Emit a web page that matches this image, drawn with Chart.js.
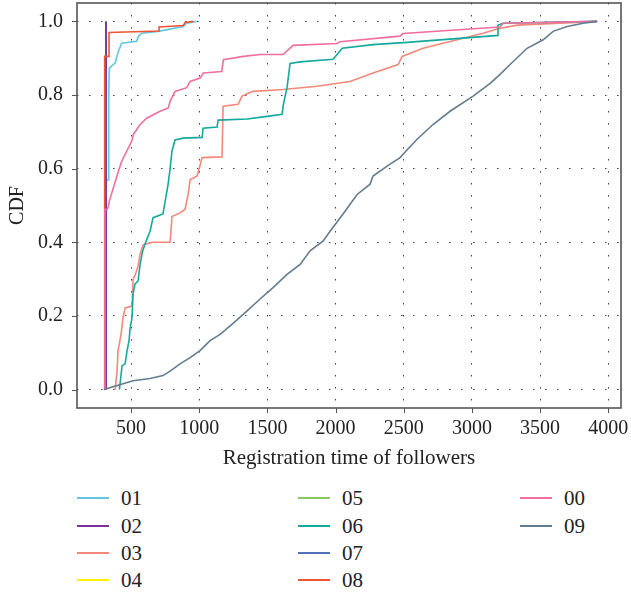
<!DOCTYPE html>
<html><head><meta charset="utf-8">
<script src="https://cdn.jsdelivr.net/npm/chart.js@4"></script>
<style>
html,body{margin:0;padding:0;background:#fff;}
#wrap{position:relative;width:631px;height:595px;overflow:hidden;}
#chartBox{position:absolute;left:0;top:0;width:631px;height:475px;}
.leg{position:absolute;font-family:"Liberation Serif",serif;font-size:21px;color:#222;line-height:24px;height:24px;}
.leg .ln{position:absolute;left:0;top:11px;height:2px;width:32px;}
.leg .tx{position:absolute;left:44px;top:0;white-space:nowrap;}
</style></head>
<body><div id="wrap"><div id="chartBox"><canvas id="c"></canvas></div><div id="legend"></div></div>
<script>
// ---- data ----
const seriesNames = ['01','02','03','04','05','06','07','08','00','09'];
const seriesColors = ['#62c6de','#7a2f9a','#f4887a','#fff200','#8cc860','#14a99c','#5572b8','#ef5533','#f06ea0','#627c90'];
const xTicks = [500,1000,1500,2000,2500,3000,3500,4000];
const yTicks = [0.0,0.2,0.4,0.6,0.8,1.0];

const x01 = [312,312,331,336,340,382,407,431,541,553,578,700,883,908,981];
const y01 = [0,0.566,0.57,0.80,0.873,0.887,0.919,0.941,0.946,0.959,0.968,0.973,0.986,0.995,1.0];

const x02 = [316,316];
const y02 = [0,1.0];

const x03 = [383,397,404,426,441,456,507,514,529,551,566,588,654,786,800,859,896,918,933,984,999,1021,1167,1175,1285,1314,1358,1395,1615,1864,2106,2275,2459,2488,2642,2892,3082,3192,3332,3919];
const y03 = [0,0.05,0.105,0.15,0.196,0.222,0.227,0.30,0.31,0.336,0.368,0.393,0.40,0.40,0.47,0.48,0.49,0.53,0.57,0.58,0.60,0.63,0.632,0.77,0.775,0.797,0.805,0.81,0.815,0.824,0.837,0.86,0.883,0.905,0.927,0.95,0.968,0.98,0.99,1.0];

const x04 = [316,316];
const y04 = [0,1.0];

const x05 = [316,316];
const y05 = [0,1.0];

const x06 = [414,434,456,470,485,492,507,514,529,551,566,580,588,602,617,639,661,734,749,771,786,800,822,881,1021,1028,1131,1138,1351,1497,1608,1615,1630,1644,1666,1740,1982,2011,2048,2275,2525,3192,3192,3229,3919];
const y06 = [0,0.065,0.07,0.105,0.133,0.165,0.196,0.26,0.287,0.295,0.34,0.368,0.38,0.395,0.41,0.43,0.467,0.477,0.51,0.557,0.60,0.648,0.678,0.683,0.685,0.71,0.713,0.732,0.735,0.742,0.748,0.77,0.797,0.82,0.886,0.89,0.897,0.91,0.927,0.937,0.943,0.962,0.99,0.995,1.0];

const x07 = [316,316];
const y07 = [0,1.0];

const x08 = [306,306,338,338,705,705,883,896,957];
const y08 = [0,0.905,0.905,0.97,0.974,0.985,0.989,0.997,1.0];

const x00 = [308,308,325,335,340,407,431,468,505,517,566,614,712,773,786,822,908,933,1006,1030,1165,1177,1324,1446,1615,1688,2011,2033,2473,2495,3207,3229,3919];
const y00 = [0,0.49,0.49,0.50,0.512,0.593,0.62,0.648,0.675,0.693,0.72,0.737,0.756,0.765,0.783,0.81,0.82,0.837,0.846,0.86,0.864,0.896,0.905,0.91,0.91,0.935,0.94,0.945,0.96,0.967,0.985,0.995,1.0];

const x09 = [300,368,514,639,734,786,859,933,1006,1079,1153,1248,1351,1446,1541,1644,1740,1813,1909,1960,2055,2158,2253,2275,2378,2473,2517,2598,2715,2840,3009,3134,3207,3280,3405,3523,3596,3699,3816,3919];
const y09 = [0,0.008,0.024,0.03,0.038,0.05,0.07,0.087,0.106,0.133,0.15,0.18,0.214,0.246,0.277,0.313,0.34,0.377,0.404,0.43,0.477,0.53,0.558,0.58,0.607,0.63,0.648,0.68,0.72,0.756,0.797,0.832,0.856,0.883,0.927,0.95,0.973,0.986,0.995,1.0];

const seriesX = [x01,x02,x03,x04,x05,x06,x07,x08,x00,x09];
const seriesY = [y01,y02,y03,y04,y05,y06,y07,y08,y00,y09];

// ---- chart ----
const FONT = '"Liberation Serif", "Times New Roman", serif';
const AXIS_COL = '#555555';
// drawing order (higher drawn first): 04,05 under, then 07, 02 ...
const drawOrder = [10, 5, 9, 13, 12, 8, 6, 4, 3, 2];

const datasets = seriesNames.map((n, i) => ({
  label: n,
  data: seriesX[i].map((x, k) => ({x: x, y: seriesY[i][k]})),
  borderColor: seriesColors[i],
  backgroundColor: seriesColors[i],
  borderWidth: 1.6,
  pointRadius: 0,
  fill: false,
  tension: 0,
  order: drawOrder[i]
}));

const framePlugin = {
  id: 'frame',
  afterDraw(chart) {
    const {ctx, chartArea: a, scales} = chart;
    ctx.save();
    ctx.strokeStyle = AXIS_COL;
    ctx.lineWidth = 1;
    ctx.beginPath();
    yTicks.forEach(v => {
      const p = Math.round(scales.y.getPixelForValue(v)) + 0.5;
      ctx.moveTo(a.left - 5, p); ctx.lineTo(a.left, p);
    });
    xTicks.forEach(v => {
      const p = Math.round(scales.x.getPixelForValue(v)) + 0.5;
      ctx.moveTo(p, a.bottom); ctx.lineTo(p, a.bottom + 5);
    });
    ctx.stroke();
    ctx.lineWidth = 1.6;
    ctx.strokeRect(a.left, a.top, a.right - a.left, a.bottom - a.top);
    ctx.restore();
  }
};

function zeroPad(s) { s.paddingTop = 0; s.paddingBottom = 0; s.paddingLeft = 0; s.paddingRight = 0; }

new Chart(document.getElementById('c'), {
  type: 'line',
  data: {datasets},
  options: {
    responsive: true,
    maintainAspectRatio: false,
    animation: false,
    layout: {padding: {left: 0, right: 10, top: 3, bottom: 0}},
    plugins: {legend: {display: false}, tooltip: {enabled: false}},
    scales: {
      x: {
        type: 'linear',
        min: 103, max: 4094,
        afterBuildTicks: s => { s.ticks = xTicks.map(v => ({value: v})); },
        afterFit: s => { s.height = 67; zeroPad(s); },
        grid: {color: '#444', lineWidth: 1, drawTicks: false},
        border: {display: false, dash: [1.5, 10.5]},
        ticks: {color: '#222', padding: 9, maxRotation: 0, autoSkip: false,
                font: {family: FONT, size: 20}, callback: v => String(v)},
        title: {display: true, text: 'Registration time of followers', color: '#222',
                font: {family: FONT, size: 21}, padding: {top: 0, bottom: 4}}
      },
      y: {
        type: 'linear',
        min: -0.05, max: 1.05,
        afterBuildTicks: s => { s.ticks = yTicks.map(v => ({value: v})); },
        afterFit: s => { s.width = 77; zeroPad(s); },
        grid: {color: '#444', lineWidth: 1, drawTicks: false},
        border: {display: false, dash: [1.5, 10.5]},
        ticks: {color: '#222', padding: 14, autoSkip: false,
                font: {family: FONT, size: 20}, callback: v => Number(v).toFixed(1)},
        title: {display: true, text: 'CDF', color: '#222',
                font: {family: FONT, size: 20}, padding: {top: 6, bottom: 0}}
      }
    }
  },
  plugins: [framePlugin]
});

// ---- legend (HTML, column-major: 4 rows) ----
const legendCols = [77, 298, 520];
const legendRows = [498, 526, 553, 580];
const leg = document.getElementById('legend');
seriesNames.forEach((n, i) => {
  const col = Math.floor(i / 4), row = i % 4;
  const d = document.createElement('div');
  d.className = 'leg';
  d.style.left = legendCols[col] + 'px';
  d.style.top = (legendRows[row] - 12) + 'px';
  const ln = document.createElement('div');
  ln.className = 'ln';
  ln.style.background = seriesColors[i];
  const tx = document.createElement('span');
  tx.className = 'tx';
  tx.textContent = n;
  d.appendChild(ln); d.appendChild(tx);
  leg.appendChild(d);
});
</script>
</body></html>
